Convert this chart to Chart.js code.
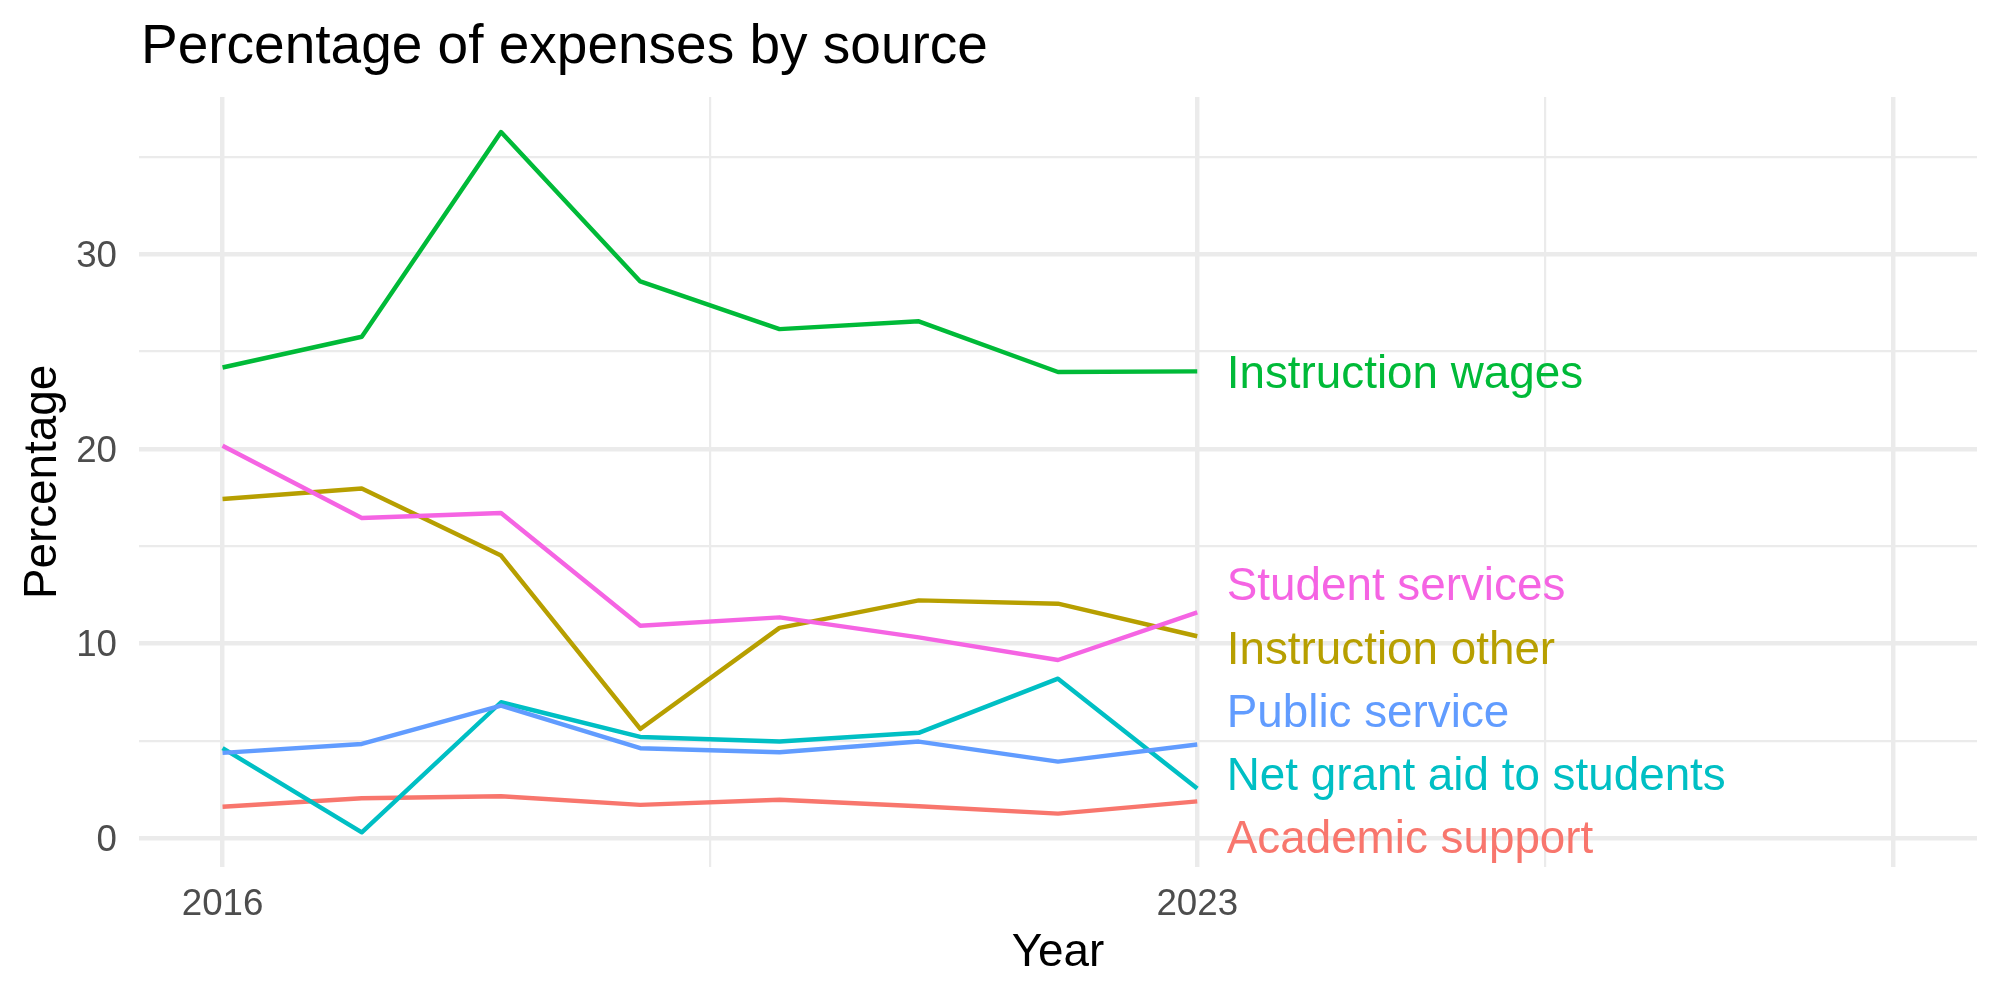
<!DOCTYPE html>
<html>
<head>
<meta charset="utf-8">
<script src="https://cdn.jsdelivr.net/npm/chart.js@4/dist/chart.umd.min.js"></script>
<style>
  html, body { margin: 0; padding: 0; background: #ffffff; }
  #wrap { width: 2000px; height: 1000px; }
</style>
</head>
<body>
<div id="wrap"><canvas id="c" width="2000" height="1000"></canvas></div>
<script>
// ---- Data ----
const years = [2016, 2017, 2018, 2019, 2020, 2021, 2022, 2023];
const seriesNames = ['Academic support', 'Instruction other', 'Instruction wages',
                     'Net grant aid to students', 'Public service', 'Student services'];
const academicSupport  = [1.62, 2.06, 2.16, 1.72, 1.98, 1.65, 1.27, 1.90];
const instructionOther = [17.43, 17.97, 14.52, 5.62, 10.81, 12.22, 12.05, 10.38];
const instructionWages = [24.18, 25.76, 36.27, 28.60, 26.15, 26.55, 23.95, 23.98];
const netGrantAid      = [4.63, 0.31, 6.99, 5.21, 4.97, 5.42, 8.20, 2.56];
const publicService    = [4.39, 4.85, 6.82, 4.63, 4.42, 4.97, 3.94, 4.82];
const studentServices  = [20.16, 16.45, 16.71, 10.92, 11.35, 10.32, 9.16, 11.61];
// repelled label positions (y values) at the end of each line
const labelYValues     = [0.08, 9.82, 23.97, 3.34, 6.57, 13.10];

const xMajorBreaks = [2016, 2023, 2028];
const xTickLabels  = ['2016', '2023', ''];
const xMinorBreaks = [2019.5, 2025.5];
const yMajorBreaks = [0, 10, 20, 30];
const yTickLabels  = ['0', '10', '20', '30'];
const yMinorBreaks = [5, 15, 25, 35];

const titleText = 'Percentage of expenses by source';
const xTitle = 'Year';
const yTitle = 'Percentage';

// ---- Styles ----
const colors = ['#F8766D', '#B79F00', '#00BA38', '#00BFC4', '#619CFF', '#F564E3'];
const FONT = '"Liberation Sans", Arial, Helvetica, sans-serif';
const GRID = '#EBEBEB';
const MAJOR_W = 4.44, MINOR_W = 2.22, LINE_W = 4.44;
const LABEL_SIZE = 45.8;

const seriesValues = [academicSupport, instructionOther, instructionWages,
                      netGrantAid, publicService, studentServices];

const datasets = seriesNames.map((name, i) => ({
  label: name,
  data: years.map((y, k) => ({ x: y, y: seriesValues[i][k] })),
  borderColor: colors[i],
  backgroundColor: colors[i],
  borderWidth: LINE_W,
  pointRadius: 0,
  pointHoverRadius: 0,
  tension: 0,
  fill: false,
  borderJoinStyle: 'round',
  borderCapStyle: 'butt',
  order: seriesNames.length - i
}));

const endLabelsPlugin = {
  id: 'endLabels',
  afterDatasetsDraw(chart) {
    const ctx = chart.ctx;
    const xs = chart.scales.x, ys = chart.scales.y;
    const lastYear = years[years.length - 1];
    ctx.save();
    ctx.font = LABEL_SIZE + 'px ' + FONT;
    ctx.textAlign = 'left';
    ctx.textBaseline = 'alphabetic';
    seriesNames.forEach((name, i) => {
      ctx.fillStyle = colors[i];
      ctx.fillText(name, xs.getPixelForValue(lastYear) + 29.5,
                   ys.getPixelForValue(labelYValues[i]) + 0.358 * LABEL_SIZE);
    });
    ctx.restore();
  }
};

const titlePlugin = {
  id: 'plotTitle',
  afterDraw(chart) {
    const ctx = chart.ctx;
    ctx.save();
    ctx.font = '55px ' + FONT;
    ctx.fillStyle = '#000000';
    ctx.textAlign = 'left';
    ctx.textBaseline = 'alphabetic';
    ctx.fillText(titleText, 141, 63);
    ctx.restore();
  }
};

function isIn(arr, v) { return arr.some(a => Math.abs(a - v) < 1e-6); }

new Chart(document.getElementById('c'), {
  type: 'line',
  data: { datasets },
  options: {
    responsive: false,
    animation: false,
    devicePixelRatio: 1,
    layout: { padding: { top: 97, right: 23, bottom: 0, left: 0 } },
    plugins: {
      legend: { display: false },
      tooltip: { enabled: false },
      title: { display: false }
    },
    scales: {
      x: {
        type: 'linear',
        min: 2015.4,
        max: 2028.6,
        afterBuildTicks(scale) {
          scale.ticks = [...xMajorBreaks, ...xMinorBreaks].sort((a, b) => a - b).map(v => ({ value: v }));
        },
        afterFit(scale) { scale.height = 133; },
        border: { display: false },
        grid: {
          color: GRID,
          drawTicks: false,
          lineWidth: (c) => (c.tick && isIn(xMajorBreaks, c.tick.value)) ? MAJOR_W : MINOR_W
        },
        ticks: {
          autoSkip: false,
          maxRotation: 0,
          padding: 16.1,
          color: '#4D4D4D',
          font: { family: FONT, size: 36.7, lineHeight: 1.2 },
          callback: (v) => {
            const idx = xMajorBreaks.findIndex(b => Math.abs(b - v) < 1e-6);
            return idx >= 0 ? xTickLabels[idx] : '';
          }
        },
        title: {
          display: true,
          text: xTitle,
          color: '#000000',
          font: { family: FONT, size: 45.8, lineHeight: 1.2 },
          padding: { top: 0, bottom: 19.3 }
        }
      },
      y: {
        type: 'linear',
        min: -1.47,
        max: 38.07,
        afterBuildTicks(scale) {
          scale.ticks = [...yMajorBreaks, ...yMinorBreaks].sort((a, b) => a - b).map(v => ({ value: v }));
        },
        afterFit(scale) { scale.width = 139; },
        border: { display: false },
        grid: {
          color: GRID,
          drawTicks: false,
          lineWidth: (c) => (c.tick && isIn(yMajorBreaks, c.tick.value)) ? MAJOR_W : MINOR_W
        },
        ticks: {
          autoSkip: false,
          padding: 22,
          labelOffset: 2.6,
          color: '#4D4D4D',
          font: { family: FONT, size: 36.7, lineHeight: 1.2 },
          callback: (v) => {
            const idx = yMajorBreaks.findIndex(b => Math.abs(b - v) < 1e-6);
            return idx >= 0 ? yTickLabels[idx] : '';
          }
        },
        title: {
          display: true,
          text: yTitle,
          color: '#000000',
          font: { family: FONT, size: 45.8, lineHeight: 1.2 },
          padding: { top: 15.7, bottom: 0 }
        }
      }
    }
  },
  plugins: [endLabelsPlugin, titlePlugin]
});
</script>
</body>
</html>
